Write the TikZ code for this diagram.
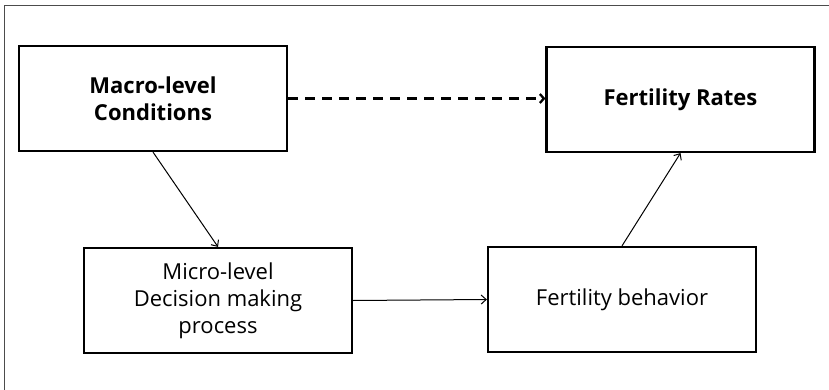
\documentclass[tikz,border=0pt]{standalone}
\usepackage{fontspec}
\setmainfont{Open Sans}
\usetikzlibrary{arrows.meta}

\begin{document}
\begin{tikzpicture}[x=1pt, y=-1pt,
    box/.style={draw, line width=2.2pt, minimum width=268pt, minimum height=105pt,
      inner sep=0pt, align=center, font=\fontsize{22}{27}\selectfont},
    boldbox/.style={box, font=\fontsize{22}{27}\selectfont\bfseries},
    link/.style={line width=1pt, -{Straight Barb[length=5pt, width=9pt]}}]
  \useasboundingbox (0,0) rectangle (829,390);
  % outer frame, cut by the page edge
  \begin{scope}
    \clip (0,0) rectangle (829,390);
    \draw[line width=1.2pt, black!70] (4.5,400) -- (4.5,5.7) -- (840,5.7);
  \end{scope}
  \node[boldbox] (macro) at (153,98.5) {Macro-level\\Conditions};
  \node[boldbox] (rates) at (680.5,99.5) {Fertility Rates};
  \node[box] (micro) at (218,300.5) {Micro-level\\Decision making\\process};
  \node[box] (behav) at (622,299.5) {Fertility behavior};
  \draw[link] (macro.south) -- (micro.north);
  \draw[link] (micro.east) -- (behav.west);
  \draw[link] (behav.north) -- (rates.south);
  \draw[line width=2.3pt, dash pattern=on 10pt off 7pt,
    -{Straight Barb[length=4pt, width=9pt]}] (macro.east) -- (rates.west |- macro.east);
\end{tikzpicture}
\end{document}
